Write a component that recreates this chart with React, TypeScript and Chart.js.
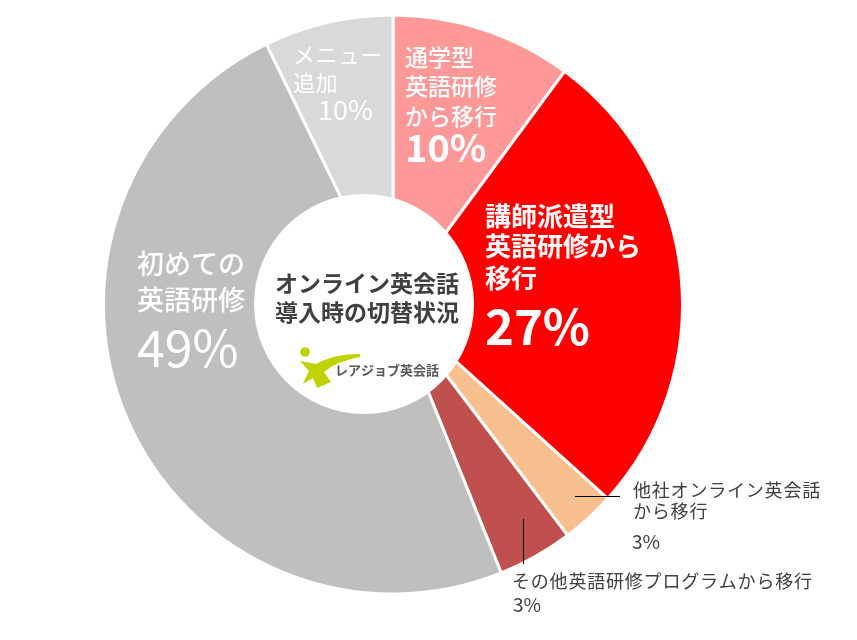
import React, { useEffect, useRef } from "react";
import { Chart, registerables } from "chart.js";

Chart.register(...registerables);

const categories = [
  "通学型英語研修から移行",
  "講師派遣型英語研修から移行",
  "他社オンライン英会話から移行",
  "その他英語研修プログラムから移行",
  "初めての英語研修",
  "メニュー追加",
];
const shares = [10.1, 26.6, 3.0, 4.2, 48.9, 7.2];
const shareLabels = ["10%", "27%", "3%", "3%", "49%", "10%"];
const labelLines = [
  ["通学型", "英語研修", "から移行"],
  ["講師派遣型", "英語研修から", "移行"],
  ["他社オンライン英会話", "から移行"],
  ["その他英語研修プログラムから移行"],
  ["初めての", "英語研修"],
  ["メニュー", "追加"],
];
const titleLines = ["オンライン英会話", "導入時の切替状況"];
const logoText = "レアジョブ英会話";

const colors = ["#FF9999", "#FF0000", "#F9C08F", "#C0504D", "#BFBFBF", "#D9D9D9"];

const FONT = '"Noto Sans CJK JP", "Noto Sans", sans-serif';

// reference geometry: pie centre (393, 304.5), radius 288
const REF_CX = 393;
const REF_CY = 304.5;
const REF_R = 288;

type LabelStyle = {
  x: number;
  ys: number[];
  size: number;
  weight: string;
  color: string;
  spacing: number;
  px: number;
  py: number;
  pSize: number;
  pWeight: string;
};

const labelStyles: LabelStyle[] = [
  { x: 405, ys: [57, 86, 116], size: 23, weight: "500", color: "#FFFFFF", spacing: 0, px: 405, py: 148, pSize: 38, pWeight: "bold" },
  { x: 485, ys: [216, 246, 278], size: 26, weight: "bold", color: "#FFFFFF", spacing: 0, px: 485, py: 326, pSize: 49, pWeight: "bold" },
  { x: 633, ys: [490, 511], size: 18, weight: "normal", color: "#404040", spacing: 0.8, px: 632, py: 542, pSize: 19, pWeight: "normal" },
  { x: 512, ys: [581], size: 18, weight: "normal", color: "#404040", spacing: 0.8, px: 513, py: 605, pSize: 19, pWeight: "normal" },
  { x: 137, ys: [264, 300], size: 27, weight: "500", color: "#FFFFFF", spacing: 0, px: 137, py: 348, pSize: 50, pWeight: "normal" },
  { x: 293, ys: [55, 83], size: 22, weight: "normal", color: "#FFFFFF", spacing: 0.5, px: 318, py: 110, pSize: 27, pWeight: "normal" },
];

const overlayPlugin = {
  id: "overlay",
  afterDraw(chart: any) {
    const arc = chart.getDatasetMeta(0).data[0];
    if (!arc) return;
    const { x: cx, y: cy, outerRadius } = arc.getProps(["x", "y", "outerRadius"], true);
    const s = (outerRadius - 1.5) / REF_R;
    const ctx: any = chart.ctx;
    ctx.save();
    ctx.translate(cx - REF_CX * s, cy - REF_CY * s);
    ctx.scale(s, s);

    // white centre disc
    ctx.beginPath();
    ctx.arc(364, 304, 110, 0, Math.PI * 2);
    ctx.fillStyle = "#FFFFFF";
    ctx.fill();

    // title
    ctx.fillStyle = "#404040";
    ctx.textBaseline = "middle";
    ctx.textAlign = "center";
    ctx.font = `bold 23px ${FONT}`;
    ctx.fillText(titleLines[0], 367, 283.5);
    ctx.fillText(titleLines[1], 367, 312);

    // logo mark
    ctx.fillStyle = "#BFD300";
    ctx.beginPath();
    ctx.arc(305, 352, 4.8, 0, Math.PI * 2);
    ctx.fill();
    ctx.beginPath();
    ctx.moveTo(300, 361);
    ctx.lineTo(316, 364);
    ctx.quadraticCurveTo(336, 353, 360, 354);
    ctx.lineTo(360, 357);
    ctx.quadraticCurveTo(337, 361, 324, 372);
    ctx.lineTo(331, 382);
    ctx.lineTo(317, 388);
    ctx.lineTo(313, 378);
    ctx.lineTo(303, 384);
    ctx.lineTo(309, 371);
    ctx.closePath();
    ctx.fill();
    ctx.fillStyle = "#595959";
    ctx.textAlign = "left";
    ctx.font = `bold 13px ${FONT}`;
    ctx.fillText(logoText, 335, 370);

    // labels
    labelStyles.forEach((st, i) => {
      ctx.fillStyle = st.color;
      ctx.textAlign = "left";
      ctx.letterSpacing = `${st.spacing}px`;
      ctx.font = `${st.weight} ${st.size}px ${FONT}`;
      labelLines[i].forEach((line, j) => ctx.fillText(line, st.x, st.ys[j]));
      ctx.letterSpacing = "0px";
      ctx.font = `${st.pWeight} ${st.pSize}px ${FONT}`;
      ctx.fillText(shareLabels[i], st.px, st.py);
    });

    // leader lines
    ctx.strokeStyle = "#000000";
    ctx.lineWidth = 1;
    ctx.beginPath();
    ctx.moveTo(575, 496.5);
    ctx.lineTo(620, 496.5);
    ctx.moveTo(523.5, 519);
    ctx.lineTo(523.5, 564);
    ctx.stroke();

    ctx.restore();
  },
};

export default function App() {
  const ref = useRef<HTMLCanvasElement>(null);
  useEffect(() => {
    if (!ref.current) return;
    const chart = new Chart(ref.current, {
      type: "pie",
      data: {
        labels: categories,
        datasets: [
          {
            data: shares,
            backgroundColor: colors,
            borderColor: "#FFFFFF",
            borderWidth: 3,
            hoverOffset: 0,
            hoverBorderWidth: 3,
          },
        ],
      },
      options: {
        animation: false,
        responsive: false,
        layout: { padding: { left: 102, right: 173, top: 13.5, bottom: 44.5 } },
        plugins: { legend: { display: false }, tooltip: { enabled: false } },
        events: [],
      },
      plugins: [overlayPlugin],
    });
    return () => chart.destroy();
  }, []);
  return (
    <div style={{ position: "fixed", left: 0, top: 0, width: 857, height: 640, background: "#fff" }}>
      <canvas ref={ref} width={857} height={640} style={{ display: "block" }} />
    </div>
  );
}
